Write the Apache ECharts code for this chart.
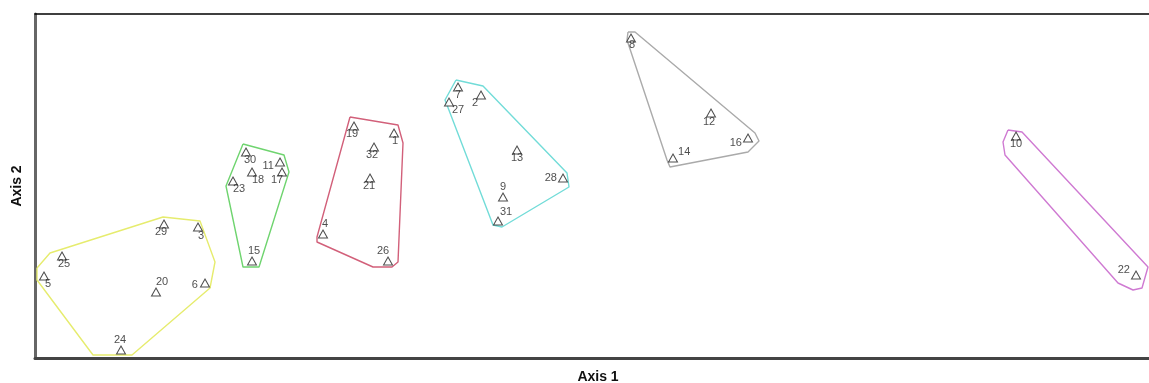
<!DOCTYPE html>
<html><head><meta charset="utf-8">
<script src="https://cdn.jsdelivr.net/npm/echarts@6/dist/echarts.min.js"></script>
<style>html,body{margin:0;padding:0;background:#fff}#c{width:1149px;height:383px}</style>
</head><body><div id="c"></div>
<script>
// Point IDs, Axis 1 and Axis 2 scores, grouped by cluster
const yellowIds = ['5','25','29','3','20','6','24'];
const yellowX = [9, 27, 129, 163, 121, 170, 86];
const yellowY = [82, 102, 134, 131, 66, 75, 8];
const greenIds = ['30','11','18','17','23','15'];
const greenX = [211, 245, 217, 247, 198, 217];
const greenY = [206, 196, 186, 186, 177, 97];
const redIds = ['19','1','32','21','4','26'];
const redX = [319, 359, 339, 335, 288, 353];
const redY = [232, 225, 211, 180, 124, 97];
const cyanIds = ['7','2','27','13','28','9','31'];
const cyanX = [423, 446, 414, 482, 528, 468, 463];
const cyanY = [271, 263, 256, 208, 180, 161, 137];
const grayIds = ['8','12','16','14'];
const grayX = [596, 676, 713, 638];
const grayY = [320, 245, 220, 200];
const magentaIds = ['10','22'];
const magentaX = [981, 1101];
const magentaY = [222, 83];

// Hull outlines (Axis 1, Axis 2)
const yellowHullX = [2, 15, 128, 165, 180, 175, 97, 58, 2];
const yellowHullY = [90, 105, 141, 137, 96, 70, 3, 3, 78];
const greenHullX = [208, 249, 254, 224, 208, 191];
const greenHullY = [214, 203, 186, 91, 91, 172];
const redHullX = [315, 363, 368, 363, 357, 338, 282, 282];
const redHullY = [241, 233, 215, 96, 91, 91, 116, 121];
const cyanHullX = [421, 448, 532, 534, 467, 458, 412, 410];
const cyanHullY = [278, 272, 185, 171, 131, 133, 253, 258];
const grayHullX = [593, 600, 720, 724, 713, 635, 632, 592];
const grayHullY = [326, 326, 225, 217, 206, 191, 198, 318];
const magentaHullX = [973, 987, 1113, 1107, 1098, 1083, 970, 968];
const magentaHullY = [228, 226, 91, 70, 68, 75, 203, 216];

const axisTitles = ['Axis 1', 'Axis 2'];

// label placement per point id (style)
const labelStyle = {
  '5':['bottom',[4,-3]], '25':['bottom',[2,-3]], '29':['bottom',[-3,-3]], '3':['bottom',[3,-2]],
  '20':['top',[6,1]], '6':['left',[-1,2]], '24':['top',[-1,1]],
  '30':['bottom',[4,-3]], '11':['left',[0,4]], '18':['bottom',[6,-3]], '17':['bottom',[-5,-3]],
  '23':['bottom',[6,-3]], '15':['top',[2,1]],
  '19':['bottom',[-2,-3]], '1':['bottom',[1,-3]], '32':['bottom',[-2,-3]], '21':['bottom',[-1,-3]],
  '4':['top',[2,1]], '26':['top',[-5,1]],
  '7':['bottom',[0,-3]], '2':['bottom',[-6,-3]], '27':['bottom',[9,-3]], '13':['bottom',[0,-3]],
  '28':['left',[0,0]], '9':['top',[0,1]], '31':['top',[8,2]],
  '8':['bottom',[1,-4]], '12':['bottom',[-2,-2]], '16':['left',[0,5]], '14':['right',[-1,-6]],
  '10':['bottom',[0,-3]], '22':['left',[0,-5]]
};

const groups = [
  {ids: yellowIds, x: yellowX, y: yellowY, hx: yellowHullX, hy: yellowHullY, color: '#e6ec6e'},
  {ids: greenIds, x: greenX, y: greenY, hx: greenHullX, hy: greenHullY, color: '#6fd46f'},
  {ids: redIds, x: redX, y: redY, hx: redHullX, hy: redHullY, color: '#d2607a'},
  {ids: cyanIds, x: cyanX, y: cyanY, hx: cyanHullX, hy: cyanHullY, color: '#72dcd8'},
  {ids: grayIds, x: grayX, y: grayY, hx: grayHullX, hy: grayHullY, color: '#aaaaaa'},
  {ids: magentaIds, x: magentaX, y: magentaY, hx: magentaHullX, hy: magentaHullY, color: '#cf7ad2'}
];

const series = [];
groups.forEach(g => {
  const hull = g.hx.map((v, i) => [v, g.hy[i]]);
  hull.push(hull[0]);
  series.push({
    type: 'line', data: hull, symbol: 'none', silent: true, animation: false,
    lineStyle: {color: g.color, width: 1.4}, z: 1
  });
});
groups.forEach(g => {
  series.push({
    type: 'scatter', symbol: 'triangle', symbolSize: [9, 8], animation: false, z: 3,
    itemStyle: {color: '#fff', borderColor: '#222', borderWidth: 1},
    data: g.ids.map((id, i) => ({
      value: [g.x[i], g.y[i]],
      label: {show: true, formatter: id, position: labelStyle[id][0], offset: labelStyle[id][1],
        distance: 1, fontSize: 11, color: '#222', fontFamily: 'Liberation Sans, Arial, sans-serif'}
    }))
  });
});

const chart = echarts.init(document.getElementById('c'), null, {renderer: 'canvas'});
chart.setOption({
  animation: false,
  backgroundColor: '#fff',
  grid: {left: 35, top: 14, right: 0, bottom: 25, outerBoundsMode: 'none', containLabel: false},
  xAxis: [
    {type: 'value', min: 0, max: 1114, position: 'bottom',
      name: axisTitles[0], nameLocation: 'middle', nameGap: 12,
      nameTextStyle: {fontSize: 14, fontWeight: 'bold', color: '#111', fontFamily: 'Liberation Sans, Arial, sans-serif', padding: [0,0,0,12]},
      axisLine: {show: true, onZero: false, lineStyle: {color: '#444', width: 3}},
      axisTick: {show: false}, axisLabel: {show: false}, splitLine: {show: false}},
    {type: 'value', min: 0, max: 1114, position: 'top',
      axisLine: {show: true, onZero: false, lineStyle: {color: '#000', width: 1.5}},
      axisTick: {show: false}, axisLabel: {show: false}, splitLine: {show: false}}
  ],
  yAxis: {type: 'value', min: 0, max: 344,
    name: axisTitles[1], nameLocation: 'middle', nameGap: 11, nameRotate: 90,
    nameTextStyle: {fontSize: 14, fontWeight: 'bold', color: '#111', fontFamily: 'Liberation Sans, Arial, sans-serif'},
    axisLine: {show: true, onZero: false, lineStyle: {color: '#666', width: 3}},
    axisTick: {show: false}, axisLabel: {show: false}, splitLine: {show: false}},
  series: series
});
</script></body></html>
